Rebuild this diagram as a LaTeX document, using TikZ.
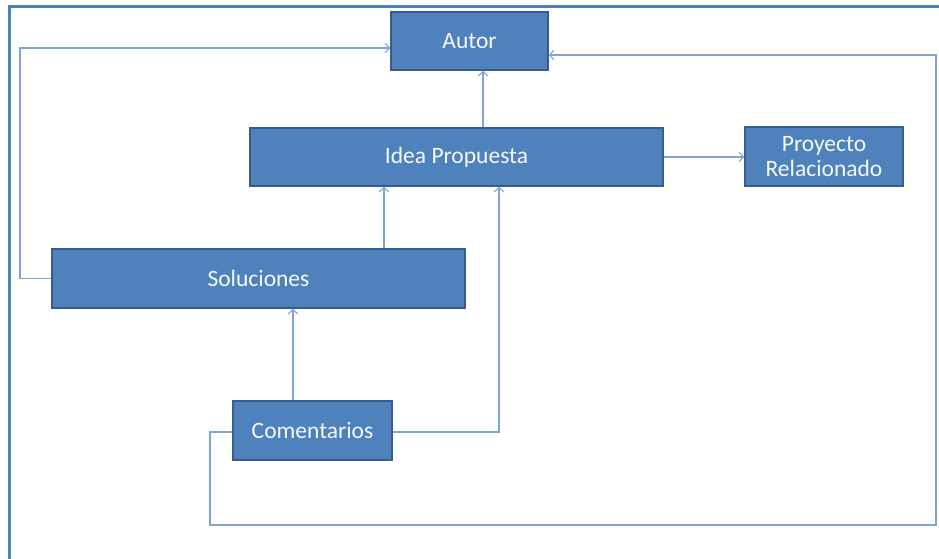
\documentclass[tikz,border=0pt]{standalone}
\usepackage{fontspec}
\setmainfont{Carlito}
\usetikzlibrary{arrows.meta}
\definecolor{boxfill}{HTML}{4F81BD}
\definecolor{boxline}{HTML}{385D8A}
\definecolor{linkcol}{HTML}{7DA5D8}
\definecolor{framecol}{HTML}{4F81BD}
\begin{document}
\begin{tikzpicture}[x=1pt,y=-1pt,
  box/.style={draw=boxline, line width=1.6pt, fill=boxfill, text=white!95!boxfill,
    inner sep=0pt, align=center, font=\fontsize{23.5}{25}\selectfont},
  link/.style={draw=linkcol, line width=1.3pt},
  arr/.style={link, -{Straight Barb[length=4.5pt,width=10pt,line width=1.1pt]}}]
\useasboundingbox (0,0) rectangle (939,559);
% outer frame
\draw[framecol, line width=3pt] (9,559) -- (9,7) -- (939,7);
% boxes (centre and size in pixels)
\node[box, minimum width=157pt, minimum height=58pt] (autor) at (469.5,41) {Autor};
\node[box, minimum width=413pt, minimum height=58pt] (idea) at (456.5,157) {Idea Propuesta};
\node[box, minimum width=158pt, minimum height=59pt] (proy) at (824,156.5) {Proyecto\\Relacionado};
\node[box, minimum width=413pt, minimum height=59pt] (sol) at (258.5,278.5) {Soluciones};
\node[box, minimum width=159pt, minimum height=59pt] (com) at (312.5,430.5) {Comentarios};
% helper coordinates for bends
\coordinate (lsol) at (20,48);
\coordinate (cidea) at (499,0);
\coordinate (rloop) at (936,55);
\coordinate (bloop) at (210,525);
% connectors
\draw[arr] (sol.west) -| (lsol) -- (autor.west |- lsol);
\draw[arr] (idea.north -| 483,0) -- (autor.south -| 483,0);
\draw[arr] (idea.east) -- (proy.west |- idea.east);
\draw[arr] (sol.north -| 384,0) -- (idea.south -| 384,0);
\draw[arr] (com.north -| 293,0) -- (sol.south -| 293,0);
\draw[arr] (com.east |- 0,432) -| (idea.south -| cidea);
\draw[arr] (com.west |- 0,432) -| (bloop) -| (rloop) -- (autor.east |- rloop);
\end{tikzpicture}
\end{document}
